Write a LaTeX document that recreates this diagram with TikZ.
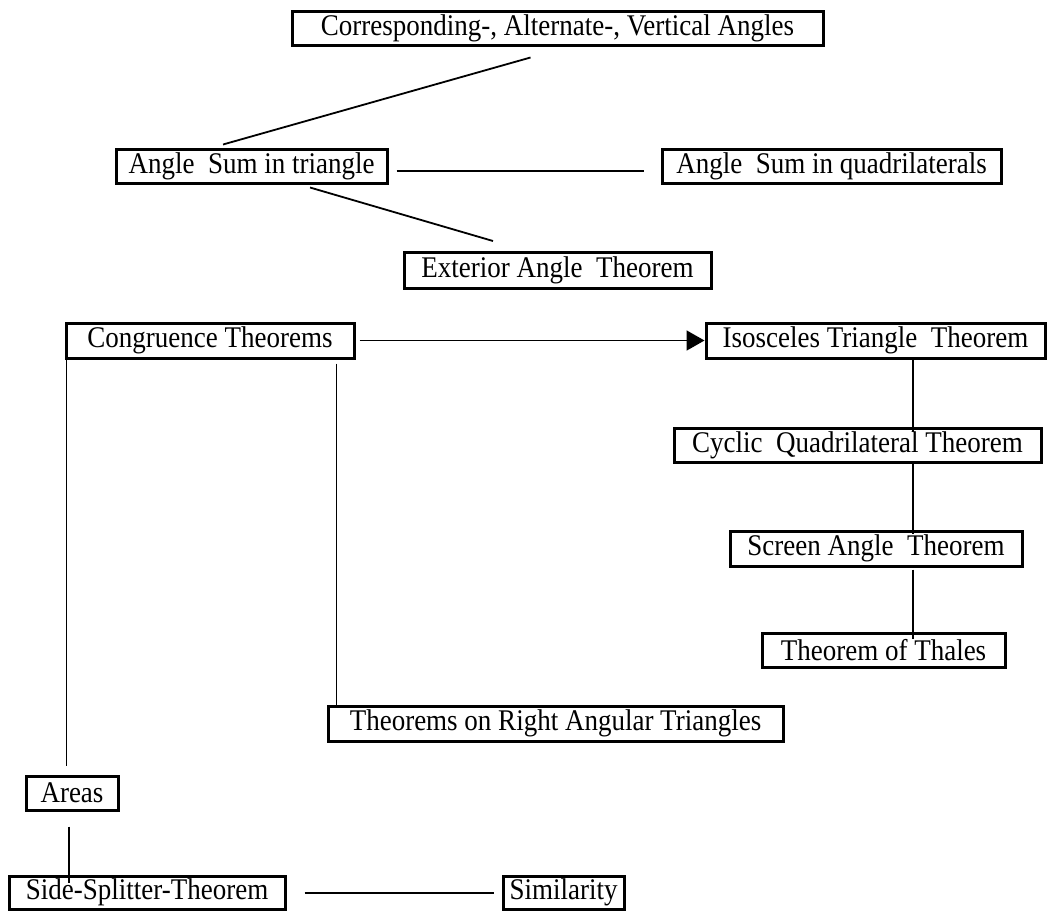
\documentclass[tikz,border=0pt]{standalone}
\usepackage{fontspec}
\setmainfont{Liberation Serif}[FakeStretch=0.9]
\usetikzlibrary{calc,arrows.meta}
\begin{document}
\begin{tikzpicture}[x=1pt,y=-1pt,
  box/.style={draw, line width=3pt, inner sep=0pt, font=\fontsize{30pt}{32pt}\selectfont, anchor=center},
  conn/.style={line width=1.8pt},
  vconn/.style={line width=1.4pt}]
\useasboundingbox (0,0) rectangle (1048,911);
% boxes: center, width, height
\node[box, minimum width=531pt, minimum height=34pt] (corr) at (557.5,28) {Corresponding-, Alternate-, Vertical Angles};
\node[box, minimum width=271pt, minimum height=34pt] (angsum) at (251.5,166) {Angle\ \ Sum in triangle};
\node[box, minimum width=339pt, minimum height=34pt] (quad) at (831.5,166.5) {Angle\ \ Sum in quadrilaterals};
\node[box, minimum width=307pt, minimum height=36pt] (ext) at (557.5,270.5) {Exterior Angle\ \ Theorem};
\node[box, minimum width=288pt, minimum height=35pt] (cong) at (210,340.5) {Congruence Theorems};
\node[box, minimum width=339pt, minimum height=35pt] (iso) at (875.5,340.5) {Isosceles Triangle\ \ Theorem};
\node[box, minimum width=367pt, minimum height=34pt] (cyc) at (857.5,445) {Cyclic\ \ Quadrilateral Theorem};
\node[box, minimum width=292pt, minimum height=35pt] (scr) at (876,548.5) {Screen Angle\ \ Theorem};
\node[box, minimum width=243pt, minimum height=34pt] (thal) at (883.5,650) {Theorem of Thales};
\node[box, minimum width=455pt, minimum height=35pt] (right) at (555.5,723.5) {Theorems on Right Angular Triangles};
\node[box, minimum width=92pt, minimum height=34pt] (areas) at (72,793) {Areas};
\node[box, minimum width=276pt, minimum height=33pt] (side) at (147,892.5) {Side-Splitter-Theorem};
\node[box, minimum width=121pt, minimum height=33pt] (sim) at (563.5,892.5) {Similarity};
% connectors
\draw[conn] ($(corr.south)+(-27,11)$) -- ($(angsum.north)+(-28.5,-3)$);
\draw[conn] ($(angsum.east)+(8,5)$) -- ($(quad.west)+(-17,4.5)$);
\draw[conn] ($(angsum.south)+(58.5,3)$) -- ($(ext.north)+(-64.5,-10)$);
\draw[conn, -{Triangle[length=18pt,width=20pt]}] ($(cong.east)+(4,0)$) -- (iso.west);
\draw[vconn] ($(cong.south west)+(2,0)$) -- ($(cong.south west |- areas.north)+(2,-9)$);
\draw[vconn] ($(cong.south -| right.north west)+(10,4)$) -- ($(right.north west)+(10,2)$);
\draw[vconn] ($(iso.south)+(37.5,0)$) -- ($(iso.south |- cyc.north)+(37.5,5)$);
\draw[vconn] ($(cyc.south -| iso.south)+(37.5,-2)$) -- ($(scr.north -| iso.south)+(37.5,4)$);
\draw[vconn] ($(scr.south -| iso.south)+(37.5,2)$) -- ($(thal.north -| iso.south)+(37.5,7)$);
\draw[vconn] ($(areas.south)+(-3,15)$) -- ($(areas.south |- side.north)+(-3,8)$);
\draw[conn] ($(side.east)+(18,0.5)$) -- ($(sim.west)+(-8,0.5)$);
\end{tikzpicture}
\end{document}
